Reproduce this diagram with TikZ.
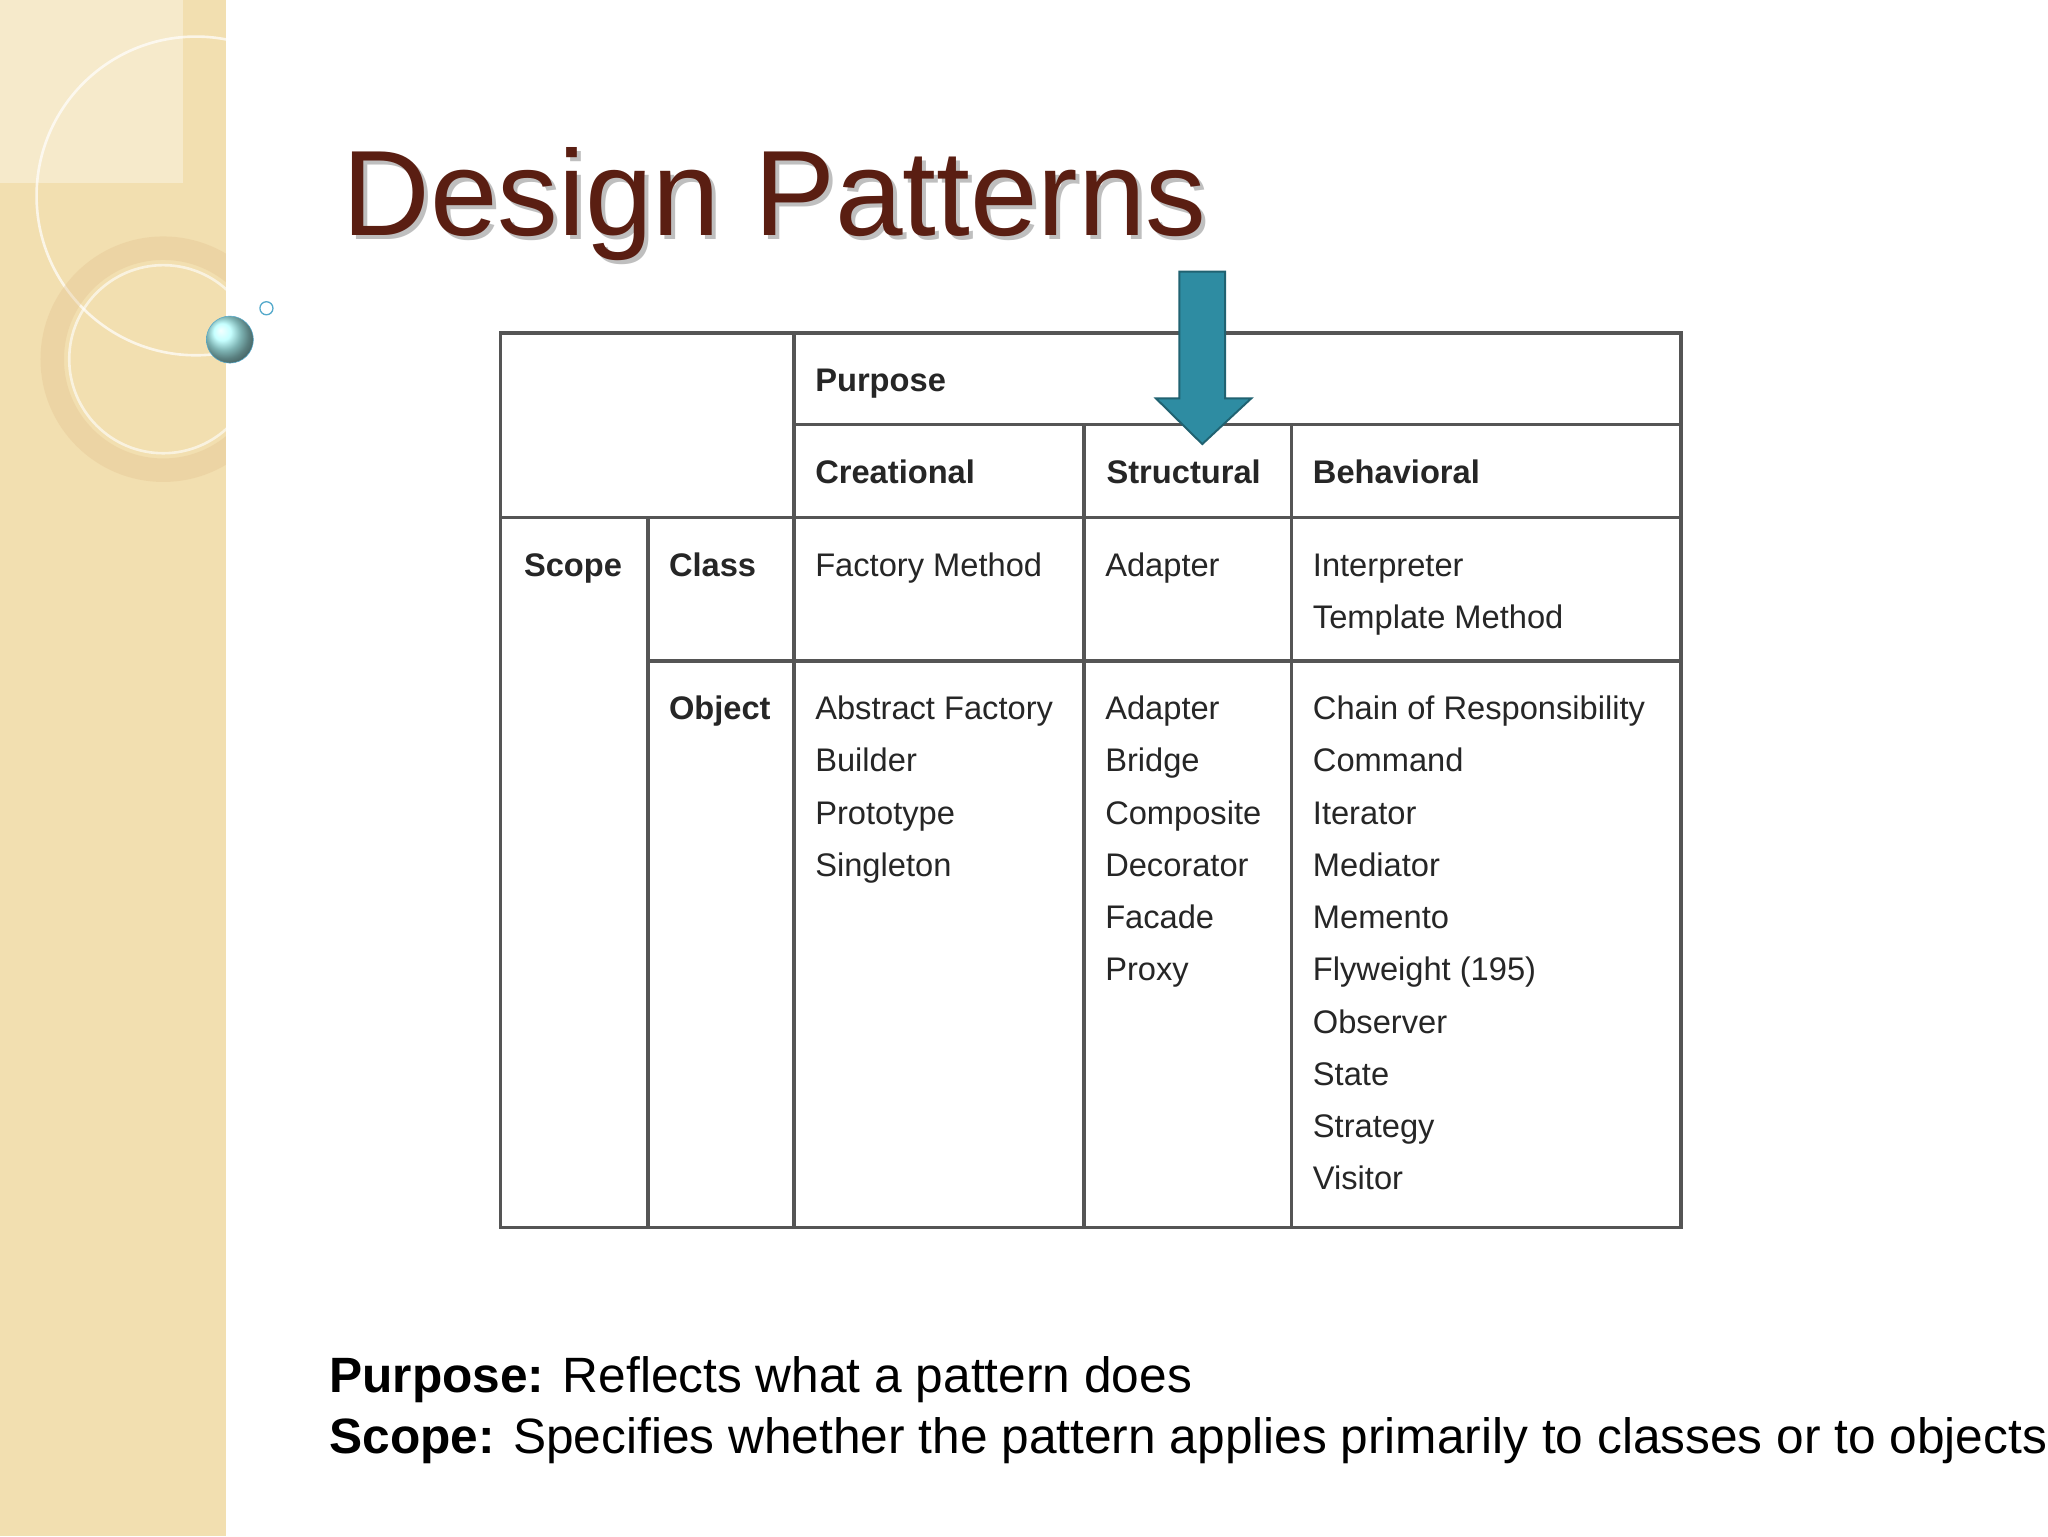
\documentclass[tikz,border=0pt]{standalone}
\usepackage{fontspec}
\setmainfont{Liberation Sans}
\definecolor{band}{HTML}{F2DFB0}
\definecolor{titlec}{HTML}{5A1E12}
\definecolor{gridc}{HTML}{555555}
\definecolor{teal}{HTML}{2E8CA2}
\tikzset{cell/.style={anchor=base west,font=\fontsize{25}{30}\selectfont,text=black!85,inner sep=0pt},
 hcell/.style={cell,font=\fontsize{25}{30}\selectfont\bfseries},
 grid/.style={draw=gridc,line width=2.6pt},
 foot/.style={anchor=base west,inner sep=0pt,font=\fontsize{38}{44}\selectfont}}
\begin{document}
\begin{tikzpicture}[x=1pt,y=-1pt]
\useasboundingbox (0,0) rectangle (1568,1176);
\fill[white] (0,0) rectangle (1568,1176);
\fill[band] (0,0) rectangle (173,1176);
\begin{scope}
\clip (0,0) rectangle (173,1176);
\fill[white,opacity=0.35] (0,0) rectangle (140,140);
\draw[white,opacity=0.7,line width=2pt] (150,150) circle (122);
\draw[band!70!brown,opacity=0.35,line width=18pt] (125,275) circle (85);
\draw[white,opacity=0.6,line width=2pt] (125,275) circle (72);
\end{scope}
\shade[ball color=cyan!30] (176,260) circle (18);
\draw[cyan!60!gray] (176,260) circle (18);
\draw[cyan!60!gray,line width=1pt] (204,236) circle (5);
% title
\node[anchor=base west,inner sep=0pt,text=black!25,font=\fontsize{93}{100}\selectfont] at (265,183) {Design Patterns};
\node[anchor=base west,inner sep=0pt,text=titlec,font=\fontsize{93}{100}\selectfont] (title) at (262,180) {Design Patterns};
% table
\draw[grid] (383,255) rectangle (1287,940);
\draw[grid] (608,255) -- (608,940);
\draw[grid] (496,396) -- (496,940);
\draw[grid] (830,325) -- (830,940);
\draw[grid] (989,325) -- (989,940);
\draw[grid] (608,325) -- (1287,325);
\draw[grid] (383,396) -- (1287,396);
\draw[grid] (496,506) -- (1287,506);
\node[hcell] (purpose) at (624,300) {Purpose};
\node[hcell] (creat) at (624,370) {Creational};
\node[hcell] (struct) at (847,370) {Structural};
\node[hcell] (behav) at (1005,370) {Behavioral};
\node[hcell] (scope) at (401,441) {Scope};
\node[hcell] (class) at (512,441) {Class};
\node[hcell] (object) at (512,551) {Object};
\node[cell] (c1) at (624,441) {Factory Method};
\node[cell] (s1) at (846,441) {Adapter};
\node[cell] (b1) at (1005,441) {Interpreter};
\node[cell] (b2) at (1005,481) {Template Method};
\foreach \t [count=\i from 0] in {Abstract Factory,Builder,Prototype,Singleton}
  \node[cell] (co\i) at (624,551+40*\i) {\t};
\foreach \t [count=\i from 0] in {Adapter,Bridge,Composite,Decorator,Facade,Proxy}
  \node[cell] (so\i) at (846,551+40*\i) {\t};
\foreach \t [count=\i from 0] in {Chain of Responsibility,Command,Iterator,Mediator,Memento,Flyweight (195),Observer,State,Strategy,Visitor}
  \node[cell] (bo\i) at (1005,551+40*\i) {\t};
% arrow
\draw[fill=teal,draw=teal!70!black,line width=1.5pt] (903,208) -- (938,208) -- (938,305) -- (958,305) -- (920.5,340) -- (885,305) -- (903,305) -- cycle;
% footer
\node[foot] (f1) at (252,1066) {\textbf{Purpose:} Reflects what a pattern does};
\node[foot] (f2) at (252,1113) {\textbf{Scope:} Specifies whether the pattern applies primarily to classes or to objects};
\end{tikzpicture}
\end{document}
